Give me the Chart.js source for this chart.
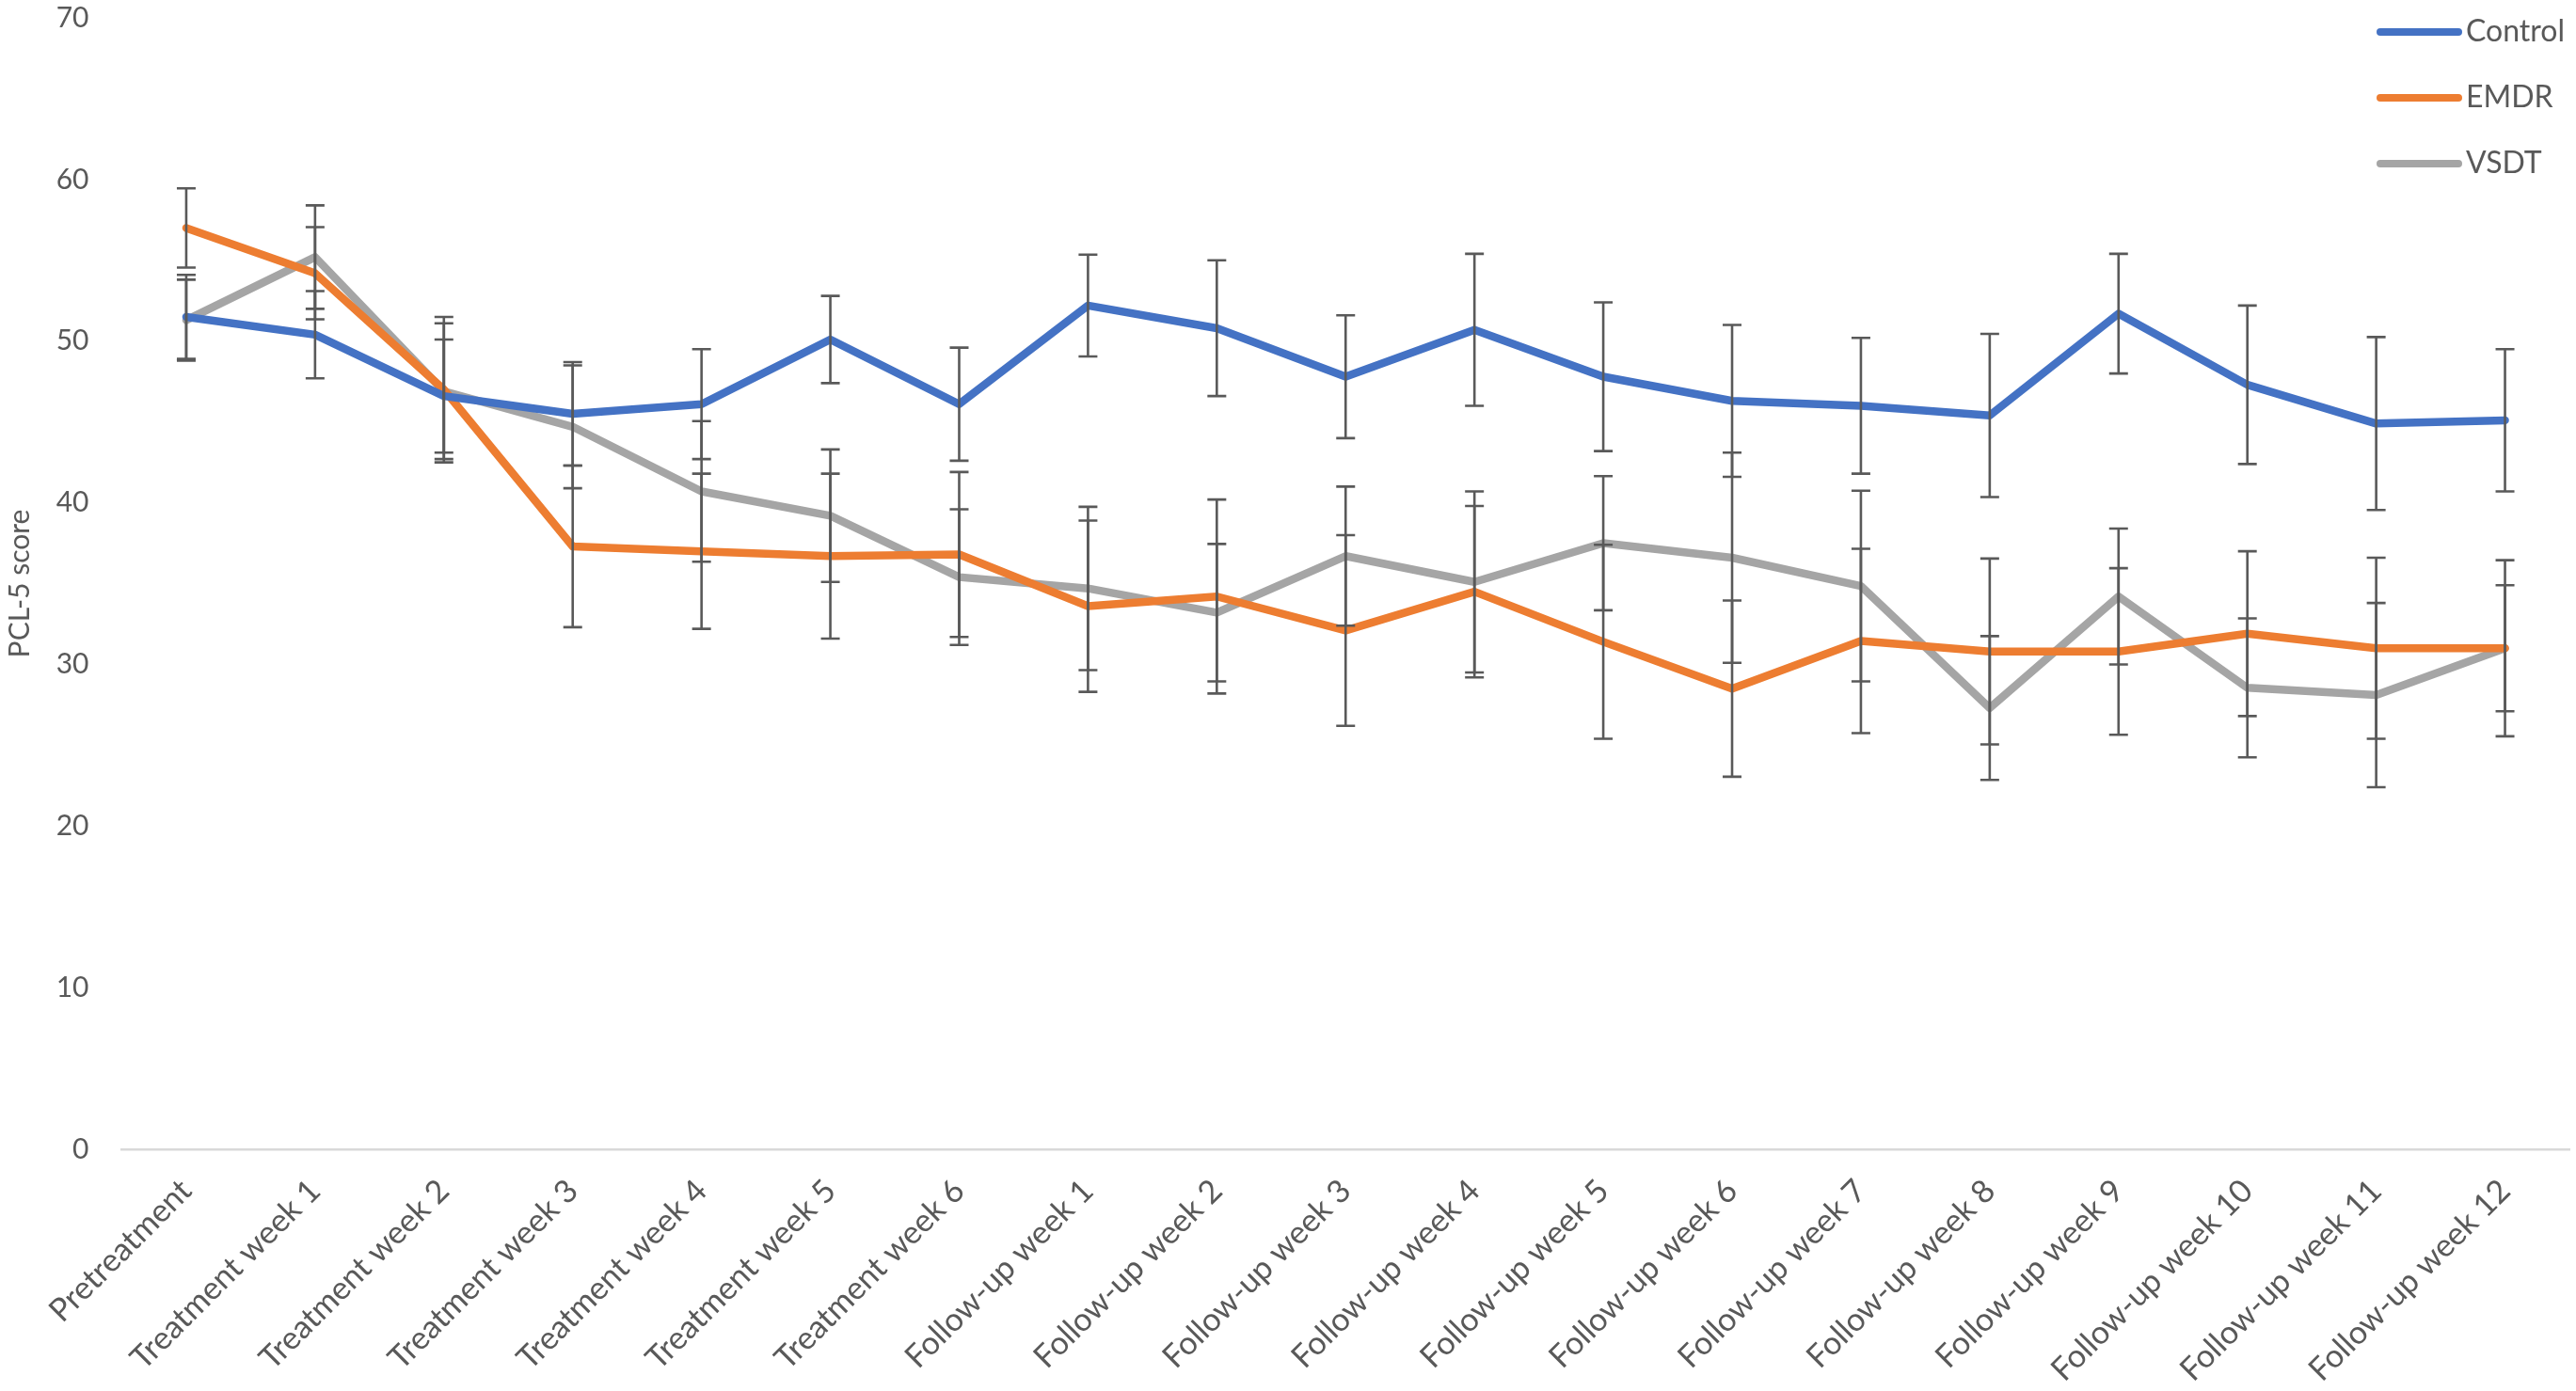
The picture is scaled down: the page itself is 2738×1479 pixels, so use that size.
<!DOCTYPE html>
<html>
<head>
<meta charset="utf-8">
<script src="https://cdn.jsdelivr.net/npm/chart.js@4/dist/chart.umd.min.js"></script>
<style>
html,body{margin:0;padding:0;background:#ffffff;}
#wrap{width:2738px;height:1479px;position:relative;}
</style>
</head>
<body>
<div id="wrap"><canvas id="c"></canvas></div>
<script>
const categories = ['Pretreatment','Treatment week 1','Treatment week 2','Treatment week 3','Treatment week 4','Treatment week 5','Treatment week 6',
  'Follow-up week 1','Follow-up week 2','Follow-up week 3','Follow-up week 4','Follow-up week 5','Follow-up week 6',
  'Follow-up week 7','Follow-up week 8','Follow-up week 9','Follow-up week 10','Follow-up week 11','Follow-up week 12'];
const seriesNames = ['Control','EMDR','VSDT'];
const controlValues = [51.5,50.4,46.6,45.5,46.1,50.1,46.1,52.2,50.8,47.8,50.7,47.8,46.3,46.0,45.4,51.7,47.3,44.9,45.1];
const controlErrors = [2.6,2.7,3.5,3.2,3.4,2.7,3.5,3.15,4.2,3.8,4.7,4.6,4.7,4.2,5.05,3.7,4.9,5.35,4.4];
const emdrValues = [57.0,54.2,47.0,37.3,37.0,36.7,36.8,33.6,34.2,32.1,34.5,31.4,28.5,31.45,30.8,30.8,31.9,31.0,31.0];
const emdrErrors = [2.45,2.85,4.5,5.0,4.8,5.1,5.1,5.3,6.0,5.9,5.3,6.0,5.45,5.7,5.75,5.15,5.1,5.6,5.45];
const vsdtValues = [51.3,55.2,46.9,44.7,40.7,39.2,35.4,34.7,33.2,36.7,35.1,37.5,36.6,34.85,27.3,34.2,28.55,28.1,31.0];
const vsdtErrors = [2.5,3.2,4.2,3.8,4.35,4.1,4.2,5.05,4.25,4.3,5.6,4.15,6.5,5.9,4.45,4.2,4.3,5.7,3.9];
const yTicks = [0,10,20,30,40,50,60,70];
const yTitle = 'PCL-5 score';

const FONT = "Lato, 'Open Sans', sans-serif";
const TEXT = '#595959';
const colors = ['#4472C4','#ED7D31','#A5A5A5'];

const errorBarPlugin = {
  id: 'errorBars',
  afterDatasetsDraw(chart) {
    const ctx = chart.ctx, y = chart.scales.y;
    ctx.save();
    ctx.strokeStyle = '#595959';
    ctx.lineWidth = 2.6;
    ctx.lineCap = 'butt';
    chart.data.datasets.forEach((ds, i) => {
      const meta = chart.getDatasetMeta(i);
      meta.data.forEach((pt, j) => {
        const v = ds.data[j], e = ds.errors[j];
        const top = y.getPixelForValue(v + e), bot = y.getPixelForValue(v - e);
        ctx.beginPath();
        ctx.moveTo(pt.x, top); ctx.lineTo(pt.x, bot);
        ctx.moveTo(pt.x - 10, top); ctx.lineTo(pt.x + 10, top);
        ctx.moveTo(pt.x - 10, bot); ctx.lineTo(pt.x + 10, bot);
        ctx.stroke();
      });
    });
    ctx.restore();
  }
};

const legendPlugin = {
  id: 'customLegend',
  afterDraw(chart) {
    const ctx = chart.ctx;
    const x0 = chart.width - 208, x1 = chart.width - 125, tx = chart.width - 117;
    const ys = [34, 104, 174];
    ctx.save();
    chart.data.datasets.forEach((ds, i) => {
      ctx.strokeStyle = ds.borderColor;
      ctx.lineWidth = 8;
      ctx.lineCap = 'round';
      ctx.beginPath(); ctx.moveTo(x0, ys[i]); ctx.lineTo(x1, ys[i]); ctx.stroke();
      ctx.fillStyle = TEXT;
      ctx.font = "32px " + FONT;
      ctx.textAlign = 'left';
      ctx.textBaseline = 'middle';
      ctx.fillText(ds.label, tx, ys[i]);
    });
    ctx.restore();
  }
};

const seriesValues = [controlValues, emdrValues, vsdtValues];
const seriesErrors = [controlErrors, emdrErrors, vsdtErrors];

new Chart(document.getElementById('c'), {
  type: 'line',
  data: {
    labels: categories,
    datasets: seriesNames.map((n, i) => ({
      label: n,
      data: seriesValues[i],
      errors: seriesErrors[i],
      borderColor: colors[i],
      backgroundColor: colors[i],
      borderWidth: 8.5,
      borderCapStyle: 'round',
      borderJoinStyle: 'round',
      pointRadius: 0,
      pointHoverRadius: 0,
      tension: 0,
      fill: false
    }))
  },
  options: {
    responsive: true,
    maintainAspectRatio: false,
    devicePixelRatio: 1,
    animation: false,
    layout: { padding: { top: 19, right: 7, bottom: 0, left: 0 } },
    plugins: { legend: { display: false }, tooltip: { enabled: false } },
    scales: {
      x: {
        type: 'category',
        offset: true,
        grid: { display: false, drawTicks: false },
        border: { display: true, color: '#d9d9d9', width: 2.6 },
        ticks: { color: TEXT, font: { family: FONT, size: 34 }, minRotation: 45, maxRotation: 45, padding: 24, autoSkip: false },
        afterFit(scale) { scale.height = 257; }
      },
      y: {
        min: 0, max: 70,
        grid: { display: false, drawTicks: false },
        border: { display: false },
        afterBuildTicks(scale) { scale.ticks = yTicks.map(v => ({ value: v })); },
        ticks: { color: TEXT, font: { family: FONT, size: 30 }, padding: 35 },
        title: { display: true, text: yTitle, color: TEXT, font: { family: FONT, size: 30 }, padding: { top: 3, bottom: 0 } },
        afterFit(scale) { scale.width = 129.5; scale.paddingTop = 0; scale.paddingBottom = 0; }
      }
    }
  },
  plugins: [errorBarPlugin, legendPlugin]
});
</script>
</body>
</html>
